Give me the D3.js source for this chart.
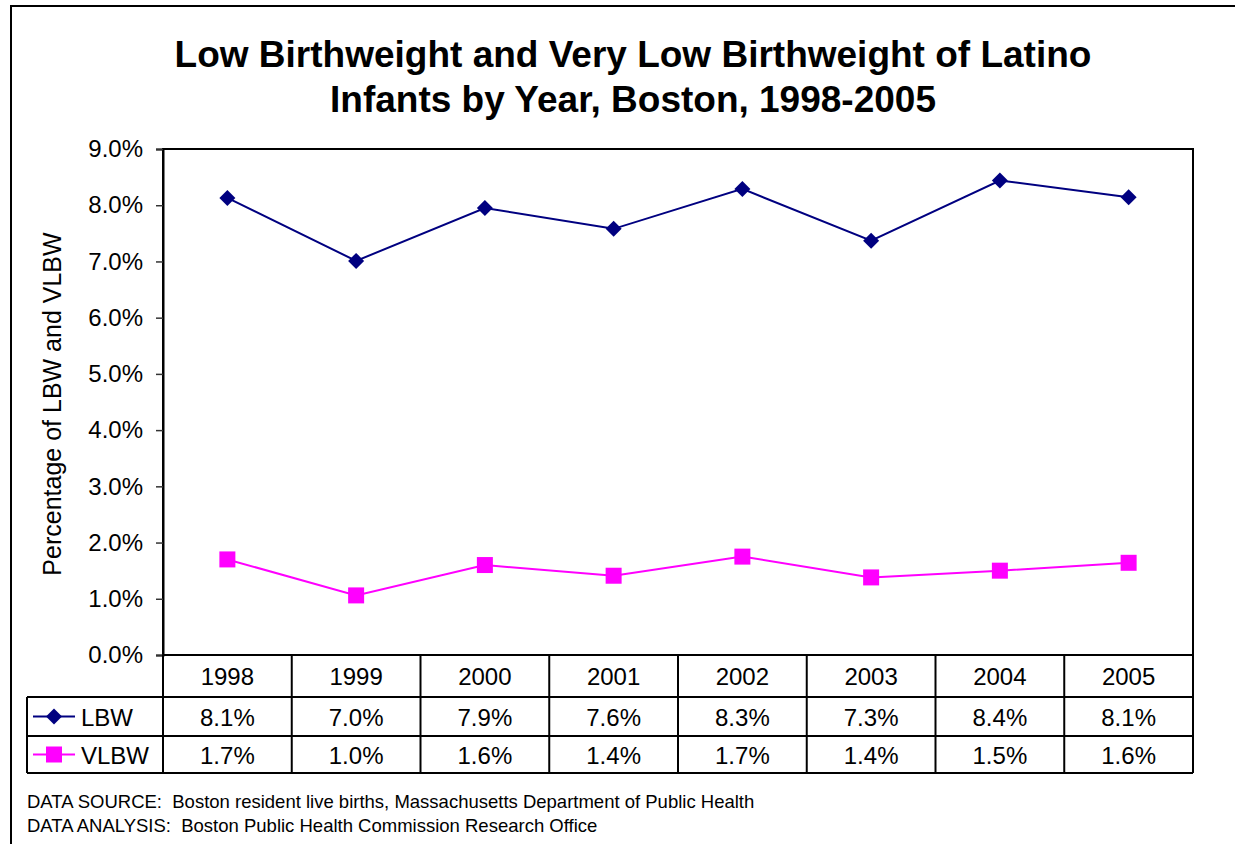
<!DOCTYPE html>
<html>
<head>
<meta charset="utf-8">
<script src="https://cdn.jsdelivr.net/npm/d3@7"></script>
<style>
  body { margin: 0; background: #fff; }
  svg { display: block; font-family: "Liberation Sans", Arial, sans-serif; }
</style>
</head>
<body>
<svg id="chart" width="1235" height="844"></svg>
<script>
// data
var years = ["1998", "1999", "2000", "2001", "2002", "2003", "2004", "2005"];
var lbwValues = [8.13, 7.01, 7.95, 7.58, 8.29, 7.37, 8.44, 8.14];
var vlbwValues = [1.70, 1.06, 1.60, 1.41, 1.75, 1.38, 1.50, 1.64];
var lbwLabels = ["8.1%", "7.0%", "7.9%", "7.6%", "8.3%", "7.3%", "8.4%", "8.1%"];
var vlbwLabels = ["1.7%", "1.0%", "1.6%", "1.4%", "1.7%", "1.4%", "1.5%", "1.6%"];
var yTicks = [0, 1, 2, 3, 4, 5, 6, 7, 8, 9];

var series = [
    { name: "LBW", values: lbwValues, labels: lbwLabels, color: "#000080", shape: "diamond" },
    { name: "VLBW", values: vlbwValues, labels: vlbwLabels, color: "#FF00FF", shape: "square" }
];

let svg = d3.select("svg#chart");

let plotLeft = 163, plotRight = 1193, plotTop = 149, plotBottom = 655;
let rowH = [42, 39, 37]; // year row, LBW row, VLBW row
let legendLeft = 27;
let textSize = "24px";

// outer frame
svg.append("rect")
    .attr("x", 11).attr("y", 6)
    .attr("width", 1240).attr("height", 850)
    .attr("fill", "none")
    .attr("stroke", "#000")
    .attr("stroke-width", 2);

// title
let title = svg.append("text")
    .attr("x", 633)
    .attr("text-anchor", "middle")
    .style("font-weight", "bold")
    .style("font-size", "37px");
title.append("tspan").attr("x", 633).attr("y", 67).text("Low Birthweight and Very Low Birthweight of Latino");
title.append("tspan").attr("x", 633).attr("y", 112).text("Infants by Year, Boston, 1998-2005");

let xScale = d3.scaleBand()
    .domain(years)
    .range([plotLeft, plotRight])
    .padding(0);

let yScale = d3.scaleLinear()
    .domain([0, 9])
    .range([plotBottom, plotTop]);

// plot box
svg.append("rect")
    .attr("x", plotLeft).attr("y", plotTop)
    .attr("width", plotRight - plotLeft).attr("height", plotBottom - plotTop)
    .attr("fill", "none")
    .attr("stroke", "#000")
    .attr("stroke-width", 2);

// y axis
let yAxis = d3.axisLeft(yScale)
    .tickValues(yTicks)
    .tickSize(7)
    .tickPadding(13)
    .tickFormat(function(d) { return d.toFixed(1) + "%"; });

let yGroup = svg.append("g")
    .attr("transform", "translate(" + plotLeft + ",0)")
    .call(yAxis);
yGroup.select(".domain").attr("stroke", "#000").attr("stroke-width", 2);
yGroup.selectAll(".tick line").attr("stroke", "#333").attr("stroke-width", 1.5);
yGroup.selectAll(".tick text")
    .attr("fill", "#000")
    .style("font-size", textSize)
    .style("font-family", "Liberation Sans, Arial, sans-serif");

// y axis title
svg.append("text")
    .attr("transform", "translate(61,404) rotate(-90)")
    .attr("text-anchor", "middle")
    .style("font-size", "25px")
    .text("Percentage of LBW and VLBW");

// lines and markers
let lineFunction = d3.line()
    .x(function(d, i) { return xScale(years[i]) + xScale.bandwidth() / 2; })
    .y(function(d) { return yScale(d); });

function markerPath(s) {
    return s.shape === "diamond"
        ? d3.symbol().type(d3.symbolSquare).size(128)()
        : d3.symbol().type(d3.symbolSquare).size(256)();
}

series.forEach(function(s) {
    svg.append("path")
        .attr("d", lineFunction(s.values))
        .attr("stroke", s.color)
        .attr("stroke-width", 2)
        .attr("fill", "none");

    svg.selectAll("path.m-" + s.name)
        .data(s.values)
        .enter().append("path")
        .attr("class", "m-" + s.name)
        .attr("d", markerPath(s))
        .attr("fill", s.color)
        .attr("transform", function(d, i) {
            let t = "translate(" + (xScale(years[i]) + xScale.bandwidth() / 2) + "," + yScale(d) + ")";
            return s.shape === "diamond" ? t + " rotate(45)" : t;
        });
});

// data table
let table = svg.append("g");
let yearTop = plotBottom;
let row1Top = yearTop + rowH[0];
let row2Top = row1Top + rowH[1];
let tableBottom = row2Top + rowH[2];

// horizontal lines
[row1Top, row2Top, tableBottom].forEach(function(y) {
    table.append("line")
        .attr("x1", legendLeft).attr("x2", plotRight)
        .attr("y1", y).attr("y2", y)
        .attr("stroke", "#000").attr("stroke-width", 2);
});
// vertical lines
years.forEach(function(yr) {
    table.append("line")
        .attr("x1", xScale(yr)).attr("x2", xScale(yr))
        .attr("y1", yearTop).attr("y2", tableBottom)
        .attr("stroke", "#000").attr("stroke-width", 2);
});
table.append("line")
    .attr("x1", plotRight).attr("x2", plotRight)
    .attr("y1", yearTop).attr("y2", tableBottom)
    .attr("stroke", "#000").attr("stroke-width", 2);
table.append("line")
    .attr("x1", legendLeft).attr("x2", legendLeft)
    .attr("y1", row1Top).attr("y2", tableBottom)
    .attr("stroke", "#000").attr("stroke-width", 2);

// year labels
table.selectAll("text.year")
    .data(years)
    .enter().append("text")
    .attr("class", "year")
    .attr("x", function(d) { return xScale(d) + xScale.bandwidth() / 2; })
    .attr("y", yearTop + rowH[0] / 2 + 9)
    .attr("text-anchor", "middle")
    .style("font-size", textSize)
    .text(function(d) { return d; });

let rowTops = [row1Top, row2Top];
series.forEach(function(s, k) {
    let cy = rowTops[k] + rowH[k + 1] / 2;
    table.selectAll("text.v-" + s.name)
        .data(s.labels)
        .enter().append("text")
        .attr("x", function(d, i) { return xScale(years[i]) + xScale.bandwidth() / 2; })
        .attr("y", cy + 9)
        .attr("text-anchor", "middle")
        .style("font-size", textSize)
        .text(function(d) { return d; });

    // legend key
    table.append("line")
        .attr("x1", 33).attr("x2", 75)
        .attr("y1", cy).attr("y2", cy)
        .attr("stroke", s.color).attr("stroke-width", 2);
    table.append("path")
        .attr("d", markerPath(s))
        .attr("fill", s.color)
        .attr("transform", "translate(54," + cy + ")" + (s.shape === "diamond" ? " rotate(45)" : ""));
    table.append("text")
        .attr("x", 81)
        .attr("y", cy + 9)
        .style("font-size", textSize)
        .text(s.name);
});

// footnotes
svg.append("text")
    .attr("x", 27).attr("y", 808)
    .attr("xml:space", "preserve")
    .style("font-size", "18.5px")
    .text("DATA SOURCE:  Boston resident live births, Massachusetts Department of Public Health");
svg.append("text")
    .attr("x", 27).attr("y", 832)
    .attr("xml:space", "preserve")
    .style("font-size", "18.5px")
    .text("DATA ANALYSIS:  Boston Public Health Commission Research Office");
</script>
</body>
</html>
